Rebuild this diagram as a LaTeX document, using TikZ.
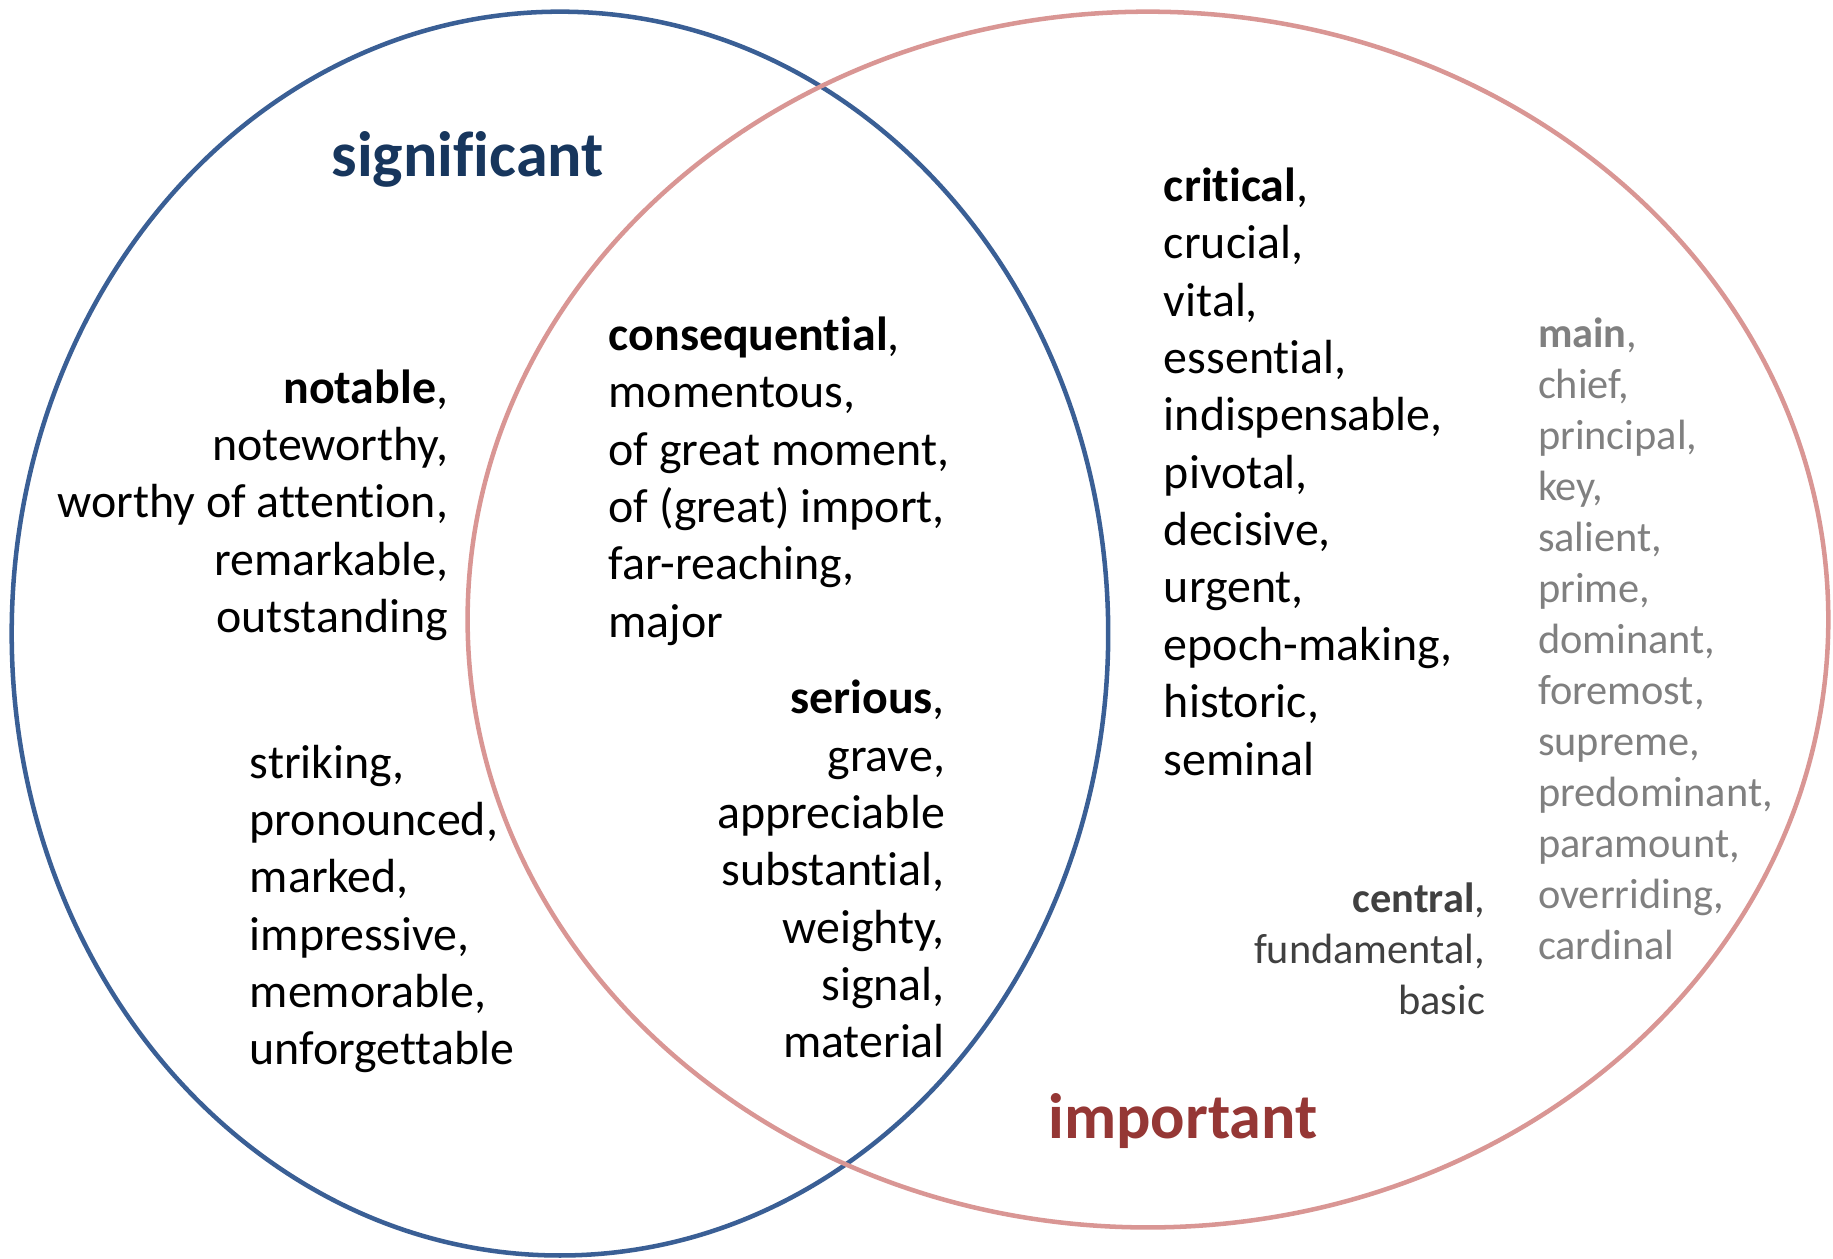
\documentclass[tikz,border=0pt]{standalone}
\usepackage{fontspec}
\setmainfont{Carlito}[Ligatures=NoCommon]
\definecolor{sigblue}{HTML}{17365D}
\definecolor{impred}{HTML}{953735}
\definecolor{lineblue}{HTML}{3A5F95}
\definecolor{linepink}{HTML}{D99694}
\definecolor{midgray}{HTML}{404040}
\definecolor{lightgray}{HTML}{808080}
\tikzstyle{words} = [inner sep=0, font=\fontsize{11.65}{13.95}\selectfont]
\tikzstyle{smallwords} = [inner sep=0, font=\fontsize{10.3}{12.42}\selectfont]
\tikzstyle{title} = [inner sep=0, font=\fontsize{15.6}{18}\selectfont\bfseries]
\tikzstyle{ring} = [line width=1.1pt]

\begin{document}
\begin{tikzpicture}[x=0.01cm, y=-0.01cm]
    \useasboundingbox (0,0) rectangle (1568,1077);
    \draw [ring, lineblue] (479,542) ellipse [x radius=469, y radius=532];
    \draw [ring, linepink] (982,530) ellipse [x radius=582, y radius=520];

    \node [title, sigblue] (significant) at (400,136) {significant};
    \node [title, impred] (important) at (1012,959) {important};

    % base anchor = baseline of the last line
    \node [words, anchor=base east, align=right] (notable) at (384,541)
        {{\bfseries notable},\\ noteworthy,\\ worthy of attention,\\ remarkable,\\ outstanding};
    \node [words, anchor=base west, align=left] (striking) at (213,911)
        {striking,\\ pronounced,\\ marked,\\ impressive,\\ memorable,\\ unforgettable};
    \node [words, anchor=base west, align=left] (consequential) at (520,545)
        {{\bfseries consequential},\\ momentous,\\ of great moment,\\ of (great) import,\\ far-reaching,\\ major};
    \node [words, anchor=base east, align=right] (serious) at (809,905)
        {{\bfseries serious},\\ grave,\\ appreciable\\ substantial,\\ weighty,\\ signal,\\ material};
    \node [words, anchor=base west, align=left] (critical) at (995,663)
        {{\bfseries critical},\\ crucial,\\ vital,\\ essential,\\ indispensable,\\ pivotal,\\ decisive,\\ urgent,\\ epoch-making,\\ historic,\\ seminal};
    \node [smallwords, lightgray, anchor=base west, align=left] (main) at (1315,821)
        {{\bfseries main},\\ chief,\\ principal,\\ key,\\ salient,\\ prime,\\ dominant,\\ foremost,\\ supreme,\\ predominant,\\ paramount,\\ overriding,\\ cardinal};
    \node [smallwords, midgray, anchor=base east, align=right] (central) at (1271,868)
        {{\bfseries central},\\ fundamental,\\ basic};
\end{tikzpicture}
\end{document}
